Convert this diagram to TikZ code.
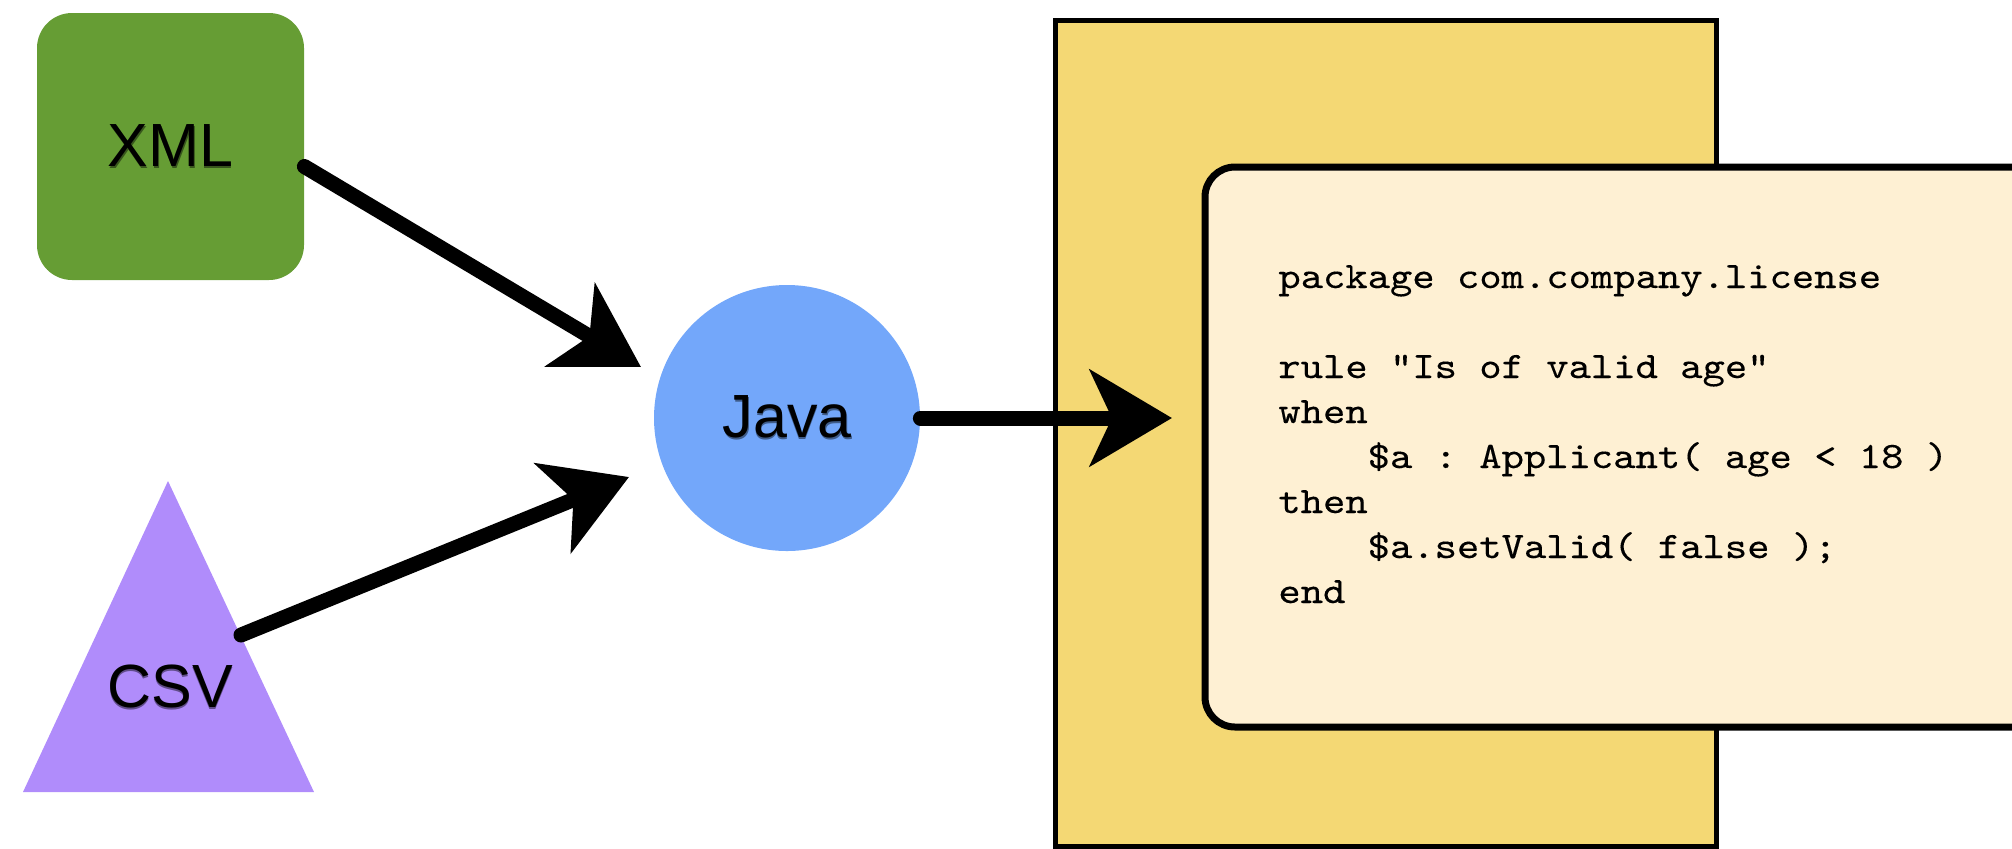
\documentclass[tikz,border=0pt]{standalone}
\usepackage{fontspec}
\usetikzlibrary{arrows.meta}
\newfontfamily\labelfont{Liberation Sans}
\newfontfamily\codefont[FakeStretch=1.14,FakeBold=0.25,Ligatures=TeXOff]{lmmono10-regular.otf}
\definecolor{xmlgreen}{HTML}{669D34}
\definecolor{csvviolet}{HTML}{B08CFB}
\definecolor{javablue}{HTML}{73A7FA}
\definecolor{sheetyellow}{HTML}{F4D874}
\definecolor{codecream}{HTML}{FEF0D3}
% label text with a soft dark shadow underneath
\newcommand\shadowtext[2]{\leavevmode\rlap{\raisebox{-1pt}{\hspace{0.3pt}\textcolor{#1}{#2}}}#2}
% four-character indentation in the code listing
\newcommand\ind{\hphantom{xxxx}}
\begin{document}
\begin{tikzpicture}[x=0.5pt,y=-0.5pt,
  shapelabel/.style={font=\labelfont\fontsize{30.5}{36}\selectfont, text=black, inner sep=0pt},
  sketcharrow/.style={line width=7.5pt, line cap=round,
    -{Stealth[length=41pt,width=48pt,inset=11pt]}},
  paper/.style={draw=black, line width=2.5pt, fill=sheetyellow, inner sep=0pt},
  card/.style={draw=black, line width=3.5pt, fill=codecream, rounded corners=15pt, inner sep=0pt},
  listing/.style={font=\codefont\fontsize{18.65}{22.5}\selectfont\frenchspacing, align=left, inner sep=0pt}]
\useasboundingbox (0,0) rectangle (2012,848);
\clip (0,0) rectangle (2012,848);

% input formats
\node[shapelabel, fill=xmlgreen, rounded corners=17.5pt,
      minimum width=133.5pt, minimum height=133.5pt] (xml) at (170.5,146.5)
      {\shadowtext{xmlgreen!55!black}{XML}};
\fill[csvviolet] (168,481) -- (314,792) -- (23,792) -- cycle;
\node[shapelabel, anchor=base] (csv) at (170,707) {\shadowtext{csvviolet!55!black}{CSV}};
\coordinate (csvout) at (241,635);

% processing step
\node[shapelabel, circle, fill=javablue, minimum size=133pt] (java) at (787,418)
      {\shadowtext{javablue!55!black}{Java}};

% rule sheet and its code card
\node[paper, minimum width=330.5pt, minimum height=413pt] (sheet) at (1385.5,433) {};
\node[card, minimum width=427.5pt, minimum height=280pt] (code) at (1632.5,447) {};
% the base anchor of the listing sits on the baseline of its last line
\node[listing, anchor=base west] (rule) at (1278,603)
  {package com.company.license\\[22.5pt]
   rule "Is of valid age"\\
   when\\
   \ind\$a : Applicant( age < 18 )\\
   then\\
   \ind\$a.setValid( false );\\
   end};

% connectors
\coordinate (xmlin) at (641,367);
\coordinate (csvin) at (629,477);
\coordinate (sheetin) at (1172,418);
\draw[sketcharrow] ([yshift=-10pt]xml.east) -- (xmlin);
\draw[sketcharrow] (csvout) -- (csvin);
\draw[sketcharrow] (java.east) -- (sheetin);
\end{tikzpicture}
\end{document}
